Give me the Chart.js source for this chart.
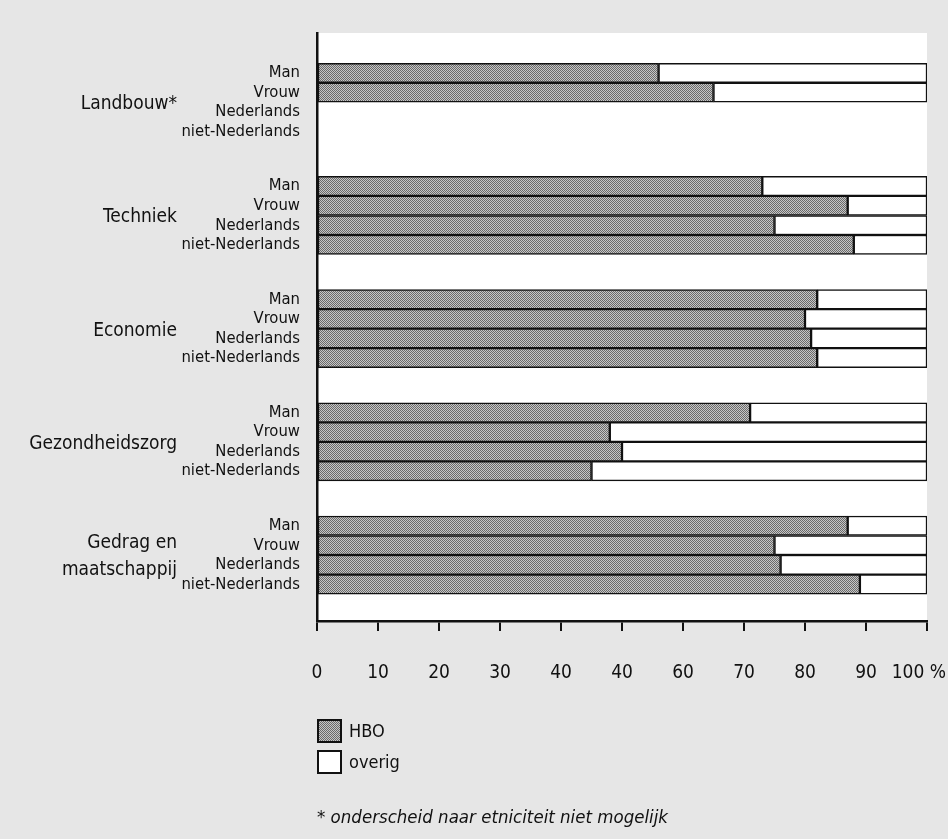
<!DOCTYPE html>
<html>
<head>
<meta charset="utf-8">
<script src="https://cdn.jsdelivr.net/npm/chart.js@4"></script>
<style>
  html, body { margin: 0; padding: 0; background: #e6e6e6; }
  #wrap { position: relative; width: 948px; height: 839px; }
</style>
</head>
<body>
<div id="wrap"><canvas id="c" width="948" height="839"></canvas></div>
<script>
// ---- data ----
const groupLabels = [['Landbouw*'], ['Techniek'], ['Economie'], ['Gezondheidszorg'], ['Gedrag en', 'maatschappij']];
const subLabels = ['Man', 'Vrouw', 'Nederlands', 'niet-Nederlands'];
const hboLandbouw = [56, 65, null, null];
const hboTechniek = [73, 87, 75, 88];
const hboEconomie = [82, 80, 81, 82];
const hboGezondheidszorg = [71, 48, 50, 45];
const hboGedrag = [87, 75, 76, 89];
const seriesNames = ['HBO', 'overig'];
const xTickLabels = ['0', '10', '20', '30', '40', '40', '60', '70', '80', '90', '100 %'];
const footnote = '* onderscheid naar etniciteit niet mogelijk';

// ---- layout / style ----
const GROUP_STRIDE = 5.8;
const FONT = "'Liberation Sans Narrow', 'Arial Narrow', 'DejaVu Sans Condensed', sans-serif";
const INK = '#111111';

const hboByGroup = [hboLandbouw, hboTechniek, hboEconomie, hboGezondheidszorg, hboGedrag];

// dither-like pattern for HBO
const pc = document.createElement('canvas');
pc.width = 2; pc.height = 2;
const pctx = pc.getContext('2d');
pctx.fillStyle = '#c6c6c6'; pctx.fillRect(0, 0, 2, 2);
pctx.fillStyle = '#6a6a6a'; pctx.fillRect(0, 0, 1, 1); pctx.fillRect(1, 1, 1, 1);
const hboFill = pctx.createPattern(pc, 'repeat');

const rowPos = [];
const rowText = [];
const hboData = [];
const restData = [];
hboByGroup.forEach((vals, g) => {
  vals.forEach((v, r) => {
    const pos = g * GROUP_STRIDE + r;
    rowPos.push(pos);
    rowText.push(subLabels[r]);
    if (v !== null) {
      hboData.push({ y: pos, x: v });
      restData.push({ y: pos, x: 100 - v });
    }
  });
});
const lastPos = (hboByGroup.length - 1) * GROUP_STRIDE + subLabels.length - 1;

Chart.defaults.font.family = FONT;
Chart.defaults.color = INK;

const decor = {
  id: 'decor',
  beforeDraw(chart) {
    const { ctx, chartArea: a } = chart;
    ctx.save();
    ctx.fillStyle = '#ffffff';
    ctx.fillRect(a.left, a.top, a.right - a.left, a.bottom - a.top);
    ctx.restore();
  },
  afterDraw(chart) {
    const { ctx } = chart;
    const y = chart.scales.y;
    ctx.save();
    // group labels
    ctx.fillStyle = INK;
    ctx.font = '19px ' + FONT;
    ctx.textAlign = 'right';
    ctx.textBaseline = 'middle';
    groupLabels.forEach((lines, g) => {
      const cy = y.getPixelForValue(g * GROUP_STRIDE + 1.5) + 2;
      const lh = 27;
      lines.forEach((t, i) => {
        ctx.fillText(t, 177, cy + (i - (lines.length - 1) / 2) * lh);
      });
    });
    // legend
    const ds = chart.data.datasets;
    ctx.textAlign = 'left';
    ctx.font = '18px ' + FONT;
    ds.forEach((d, i) => {
      const bx = 318, by = 720 + i * 31, bw = 23, bh = 22;
      ctx.fillStyle = d.backgroundColor;
      ctx.fillRect(bx, by, bw, bh);
      ctx.lineWidth = 2;
      ctx.strokeStyle = INK;
      ctx.strokeRect(bx, by, bw, bh);
      ctx.fillStyle = INK;
      ctx.fillText(d.label, bx + 31, by + bh / 2 + 1);
    });
    // footnote
    ctx.font = 'italic 18.5px ' + FONT;
    ctx.fillText(footnote, 317, 818);
    ctx.restore();
  }
};

new Chart(document.getElementById('c'), {
  type: 'bar',
  data: {
    datasets: [
      { label: seriesNames[0], data: hboData, backgroundColor: hboFill, borderColor: INK, borderWidth: 1.5, borderSkipped: false },
      { label: seriesNames[1], data: restData, backgroundColor: '#ffffff', borderColor: INK, borderWidth: 1.5, borderSkipped: false }
    ]
  },
  options: {
    indexAxis: 'y',
    responsive: false,
    animation: false,
    events: [],
    layout: { padding: { top: 33, right: 21, left: 0, bottom: 0 } },
    datasets: { bar: { barPercentage: 1, categoryPercentage: 1 } },
    plugins: { legend: { display: false }, tooltip: { enabled: false } },
    scales: {
      x: {
        type: 'linear',
        stacked: true,
        min: 0, max: 100,
        ticks: {
          stepSize: 10,
          autoSkip: false,
          maxRotation: 0,
          padding: 31,
          font: { size: 19 },
          color: INK,
          callback: (v, i) => xTickLabels[i] + (i === xTickLabels.length - 1 ? '   ' : '')
        },
        grid: { drawOnChartArea: false, drawTicks: true, tickLength: 10, color: INK, lineWidth: 2 },
        border: { display: true, color: INK, width: 2.5 },
        afterFit(s) { s.height = 218; s.paddingLeft = 0; s.paddingRight = 0; }
      },
      y: {
        type: 'linear',
        stacked: true,
        reverse: true,
        offset: false,
        min: -2.05,
        max: lastPos + 0.5 + 1.38,
        afterBuildTicks(s) { s.ticks = rowPos.map(v => ({ value: v })); },
        ticks: {
          autoSkip: false,
          padding: 17,
          font: { size: 16.5 },
          color: INK,
          callback: (v, i) => rowText[i]
        },
        grid: { drawOnChartArea: false, drawTicks: false },
        border: { display: true, color: INK, width: 2.5 },
        afterFit(s) { s.width = 317; s.paddingTop = 0; s.paddingBottom = 0; }
      }
    }
  },
  plugins: [decor]
});
</script>
</body>
</html>
